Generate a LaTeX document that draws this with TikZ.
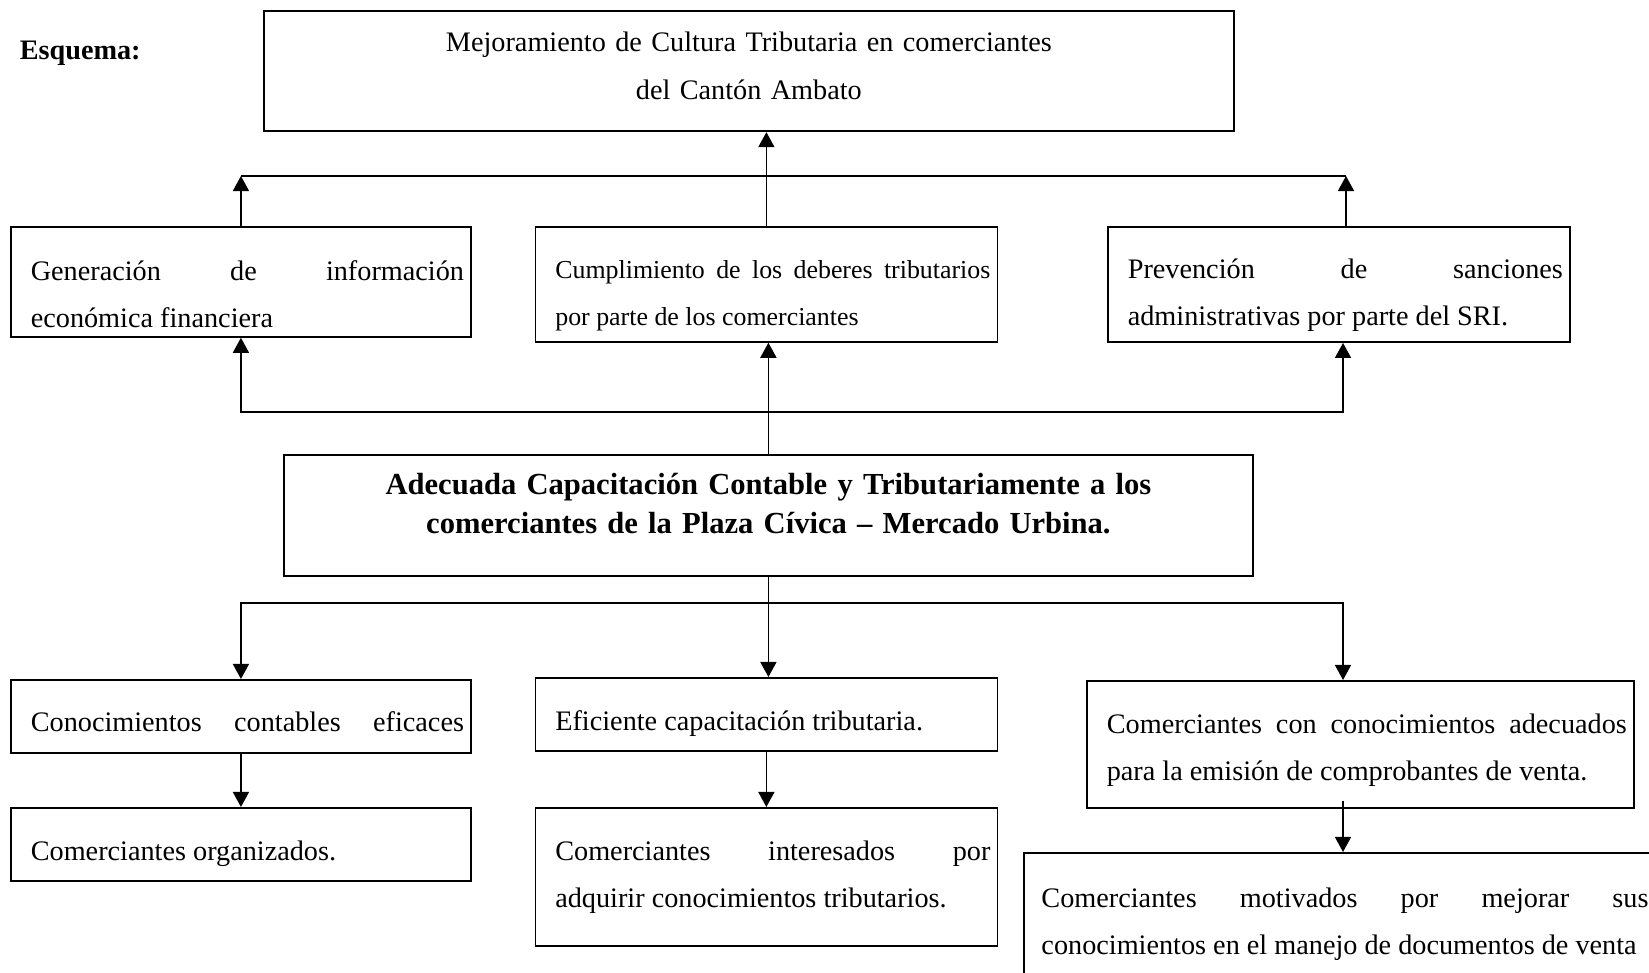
\documentclass[tikz,border=0pt]{standalone}
\usepackage{fontspec}
\setmainfont{Liberation Serif}
\usetikzlibrary{arrows.meta}
\hyphenpenalty=10000
\tolerance=10000
\newcommand{\alto}[1]{\rule{0pt}{#1}}
\newcommand{\bajo}[1]{\rule[-#1]{0pt}{#1}}

\begin{document}
\begin{tikzpicture}[x=0.425pt, y=-0.425pt, line width=0.7pt, >={Triangle[length=6.4pt,width=6.8pt]}]
    \tikzset{caja/.style = {draw, rectangle, anchor=north west, inner xsep=3pt, inner ysep=0pt, font=\fontsize{12}{20}\selectfont},
             just/.style = {caja, align=justify, execute at begin node={\leftskip=5.5pt}},
             centro/.style = {caja, align=center}}
    \useasboundingbox (0,0) rectangle (1649,973);
    \clip (0,0) rectangle (1649,973);
    \node[anchor=base west, inner sep=0pt, font=\fontsize{12}{14}\selectfont\bfseries] (esq) at (19,60) {Esquema:};
    \node[centro, text width=406.3pt, font=\fontsize{12}{20.6}\selectfont] (top) at (263,10.5) {\alto{16.9pt}Mejoramiento de Cultura Tributaria en comerciantes\\del Cantón Ambato\bajo{13.5pt}};
    %% efectos
    \node[just, text width=189.6pt] (gen) at (10,226) {\alto{22.7pt}Generación de información\linebreak económica financiera\bajo{4.1pt}};
    \node[just, text width=190.4pt, font=\fontsize{11}{20}\selectfont] (cum) at (534.5,226) {\alto{22.1pt}Cumplimiento de los deberes tributarios\linebreak por parte de los comerciantes\bajo{6.8pt}};
    \node[just, text width=190.4pt] (pre) at (1107,226) {\alto{22.1pt}Prevención de sanciones\linebreak administrativas por parte del SRI.\bajo{6.9pt}};
    %% propuesta
    \node[centro, text width=405.9pt, font=\fontsize{13}{16.6}\selectfont\bfseries] (cen) at (283,454) {\alto{16.9pt}Adecuada Capacitación Contable y Tributariamente a los\\comerciantes de la Plaza Cívica – Mercado Urbina.\bajo{18pt}};
    %% medios
    \node[just, text width=189.6pt] (con) at (10,679) {\alto{22.1pt}Conocimientos\hfill contables\hfill eficaces\bajo{9pt}};
    \node[just, text width=190.4pt] (efi) at (534.5,677) {\alto{22.5pt}Eficiente capacitación tributaria.\bajo{8.6pt}};
    \node[just, text width=226.5pt] (ccon) at (1086,680) {\alto{22.3pt}Comerciantes con conocimientos adecuados\linebreak para la emisión de comprobantes de venta.\bajo{11.7pt}};
    \node[just, text width=189.6pt] (org) at (10,807) {\alto{22.5pt}Comerciantes organizados.\bajo{8.6pt}};
    \node[just, text width=190.4pt] (int) at (534.5,807) {\alto{22.5pt}Comerciantes interesados por\linebreak adquirir conocimientos tributarios.\bajo{16.2pt}};
    \node[just, text width=262.5pt, execute at begin node={\leftskip=4.5pt}] (mot) at (1023,852) {\alto{23.3pt}Comerciantes motivados por mejorar sus\linebreak \mbox{conocimientos en el manejo de documentos de venta}\bajo{20pt}};
    %% flechas arriba
    \coordinate (uL) at (gen.north |- 0,176);
    \coordinate (uR) at (1346,176);
    \draw (uL) -- (uR);
    \draw[->] (gen.north) -- (uL);
    \draw[->] (uR |- pre.north) -- (uR);
    \draw[->] (cum.north) -- (cum.north |- top.south);
    %% flechas medio
    \coordinate (mM) at (cen.north |- 0,412);
    \coordinate (mL) at (gen.south |- 0,412);
    \coordinate (mR) at (1343,412);
    \draw[->] (mM) -- (mL) -- (gen.south);
    \draw[->] (mM) -- (mR) -- (mR |- pre.south);
    \draw[->] (cen.north) -- (cen.north |- cum.south);
    %% flechas abajo
    \coordinate (dM) at (cen.south |- 0,603);
    \coordinate (dL) at (con.north |- 0,603);
    \coordinate (dR) at (1343,603);
    \draw (cen.south) -- (dM);
    \draw[->] (dM) -- (dL) -- (con.north);
    \draw[->] (dM) -- (dR) -- (dR |- ccon.north);
    \draw[->] (dM) -- (dM |- efi.north);
    \draw[->] (con) -- (org);
    \draw[->] (efi) -- (int);
    \coordinate (cS) at (dR |- ccon.south);
    \draw[->] ([yshift=3.4pt]cS) -- (cS |- mot.north);
\end{tikzpicture}
\end{document}
